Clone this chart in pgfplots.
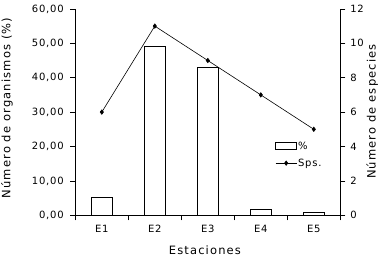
\documentclass[border=0pt]{standalone}
\usepackage{fontspec}
\setmainfont{DejaVu Sans}
\newfontfamily\tickfont[LetterSpace=8]{DejaVu Sans}
\newfontfamily\labfont[LetterSpace=10]{DejaVu Sans}
\usepackage{pgfplots}
\pgfplotsset{compat=1.18}
\begin{document}
\begin{tikzpicture}
\useasboundingbox (-75.3pt,-45.7pt) rectangle (310.7pt,215.3pt);
\pgfplotsset{
  every axis/.append style={font=\tickfont\fontsize{10}{12}\selectfont, scale only axis, width=265pt, height=206.4pt,
    xmin=-0.5, xmax=4.5, /pgf/number format/assume math mode=true,
    tick align=outside, major tick length=5pt, minor tick length=5pt,
    axis line style={line width=0.7pt},
    every tick/.style={black, line width=0.7pt}},
  every axis label/.append style={font=\labfont\fontsize{11.5}{13}\selectfont},
}
\begin{axis}[
  axis y line*=left, axis x line*=bottom,
  ymin=0, ymax=60, ytick={0,10,...,60},
  yticklabel style={xshift=-3pt, /pgf/number format/.cd, fixed, fixed zerofill, precision=2, use comma},
  xtick={0,...,4}, xticklabels={E1,E2,E3,E4,E5},
  xticklabel style={yshift=-1.5pt},
  major x tick style={draw=none},
  minor xtick={-0.5,0.5,...,4.5},
  ylabel={Número de organismos (\%)},
  ylabel style={at={(axis description cs:-0.258,0.52)}, rotate=0, anchor=center},
  xlabel={Estaciones},
  xlabel style={at={(axis description cs:0.489,-0.168)}, anchor=center},
]
\addplot[ybar, bar width=21pt, bar shift=0pt, fill=white, draw=black, line width=0.7pt] coordinates {(0,5.2)(1,49.2)(2,43.0)(3,1.7)(4,0.9)};
\end{axis}
\begin{axis}[
  axis y line*=right, axis x line=none,
  ymin=0, ymax=12, ytick={0,2,...,12},
  yticklabel style={xshift=1.5pt},
  ylabel={Número de especies},
  ylabel style={at={(axis description cs:1.12,0.503)}, rotate=0, anchor=center},
  legend style={draw=none, fill=none, at={(axis description cs:0.754,0.362)}, anchor=north west,
    inner sep=0pt, font=\tickfont\fontsize{10}{12}\selectfont, row sep=6pt,
    nodes={inner sep=1pt}},
  legend cell align=left,
]
\addlegendimage{legend image code/.code={\draw[black, fill=white, line width=0.7pt] (0pt,-3.5pt) rectangle (21pt,3.5pt);}}
\addlegendentry{\%}
\addplot[black, mark=diamond*, mark size=2.2pt, line width=0.6pt,
  legend image code/.code={\draw[black, line width=0.6pt, mark=diamond*, mark size=2.2pt, mark repeat=2, mark phase=2] plot coordinates {(0pt,0pt) (10.5pt,0pt) (21pt,0pt)};}]
  coordinates {(0,6)(1,11)(2,9)(3,7)(4,5)};
\addlegendentry{Sps.}
\end{axis}
\end{tikzpicture}
\end{document}
